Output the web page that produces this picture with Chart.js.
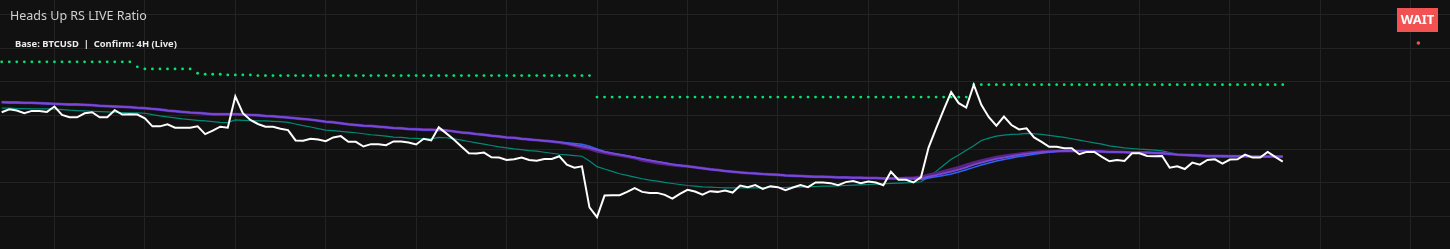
<!DOCTYPE html>
<html>
<head>
<meta charset="utf-8">
<title>Heads Up RS LIVE Ratio</title>
<script src="https://cdn.jsdelivr.net/npm/chart.js@4.4.1/dist/chart.umd.min.js"></script>
<style>
    html, body { margin: 0; padding: 0; background: #111111; overflow: hidden; }
    #wrap { position: relative; width: 1450px; height: 249px; overflow: hidden; }
    /* chart.js keeps 5px for point overflow, so the canvas box is pushed out by that much */
    #chartBox { position: absolute; left: -5px; top: -5px; width: 1460px; height: 259px; }
    #title { position: absolute; left: 10px; top: 7px; font: 12.5px "Noto Sans", sans-serif; color: #d0d0d0; }
    #sub { position: absolute; left: 15px; top: 37px; font: bold 9.4px "Noto Sans", sans-serif; color: #ececec; white-space: pre; }
</style>
</head>
<body>
<div id="wrap">
    <div id="chartBox"><canvas id="rsChart"></canvas></div>
    <div id="title">Heads Up RS LIVE Ratio</div>
    <div id="sub">Base: BTCUSD  |  Confirm: 4H (Live)</div>
</div>
<script>
// bar index (4H candles) for every series
const bars = [];
for (let i = 0; i <= 170; i++) bars.push(i);

// grid every 12 bars, ratio grid every 10 pts
const xGridTicks = [7, 19, 31, 43, 55, 67, 79, 91, 103, 115, 127, 139, 151, 163, 175, 187];

// live RS ratio (white)
const ratio = [
    41.0, 41.9, 41.5, 40.7, 41.4, 41.4, 41.1, 42.7, 40.2, 39.5,
    39.5, 40.7, 41.0, 39.5, 39.5, 41.6, 40.3, 40.4, 40.3, 39.2,
    36.8, 36.8, 37.4, 36.4, 36.4, 36.4, 36.8, 34.5, 35.5, 36.7,
    36.4, 45.7, 40.7, 38.7, 37.5, 36.7, 36.7, 36.1, 35.7, 32.6,
    32.5, 33.1, 32.9, 32.4, 33.5, 33.9, 32.2, 32.2, 30.8, 31.5,
    31.5, 31.2, 32.3, 32.3, 32.0, 31.4, 33.1, 32.6, 36.5, 34.7,
    32.9, 30.8, 28.8, 28.7, 29.0, 27.6, 27.5, 26.8, 27.0, 27.5,
    26.8, 26.6, 27.1, 27.1, 27.9, 25.4, 24.5, 24.9, 12.7, 9.8,
    16.2, 16.3, 16.3, 17.3, 18.4, 17.3, 17.0, 17.0, 16.4, 15.3,
    16.7, 17.9, 17.4, 16.5, 17.5, 17.3, 17.7, 17.1, 19.2, 18.7,
    19.3, 18.2, 19.0, 18.7, 17.8, 18.6, 19.3, 18.7, 20.1, 20.1,
    19.9, 19.3, 20.2, 20.5, 19.9, 20.4, 20.1, 19.3, 23.3, 20.9,
    20.9, 20.1, 21.7, 30.5, 36.2, 41.7, 47.0, 43.7, 42.4, 49.2,
    43.2, 39.5, 37.0, 39.7, 37.2, 35.9, 36.2, 33.5, 32.2, 30.7,
    30.7, 30.3, 30.3, 28.5, 29.2, 29.2, 27.7, 26.4, 26.8, 26.5,
    28.8, 28.8, 28.0, 27.9, 28.0, 24.5, 24.9, 24.1, 26.0, 25.4,
    26.8, 27.0, 25.7, 26.9, 27.0, 28.4, 27.5, 27.5, 29.2, 27.7,
    26.3
];

// fast average (teal)
const fastAvg = [
    42.2, 42.2, 42.1, 42.1, 42.0, 42.0, 42.0, 41.9, 41.8, 41.6,
    41.5, 41.4, 41.3, 41.2, 41.1, 41.0, 40.9, 40.8, 40.8, 40.7,
    40.3, 39.9, 39.6, 39.3, 39.0, 38.8, 38.6, 38.4, 38.2, 38.0,
    37.9, 38.7, 38.6, 38.5, 38.4, 38.4, 38.3, 38.2, 38.0, 37.5,
    37.0, 36.6, 36.1, 35.7, 35.5, 35.3, 35.1, 34.9, 34.6, 34.3,
    34.1, 33.9, 33.6, 33.5, 33.3, 33.2, 33.1, 33.1, 33.5, 33.4,
    33.1, 32.7, 32.3, 31.9, 31.5, 31.1, 30.7, 30.4, 30.1, 29.9,
    29.6, 29.4, 29.1, 28.8, 28.5, 28.3, 28.1, 27.9, 26.5, 24.8,
    24.1, 23.4, 22.7, 22.2, 21.7, 21.2, 20.8, 20.5, 20.1, 19.8,
    19.5, 19.2, 19.0, 18.8, 18.7, 18.6, 18.5, 18.5, 18.5, 18.5,
    18.5, 18.5, 18.6, 18.6, 18.6, 18.7, 18.7, 18.8, 18.9, 19.0,
    19.0, 19.1, 19.2, 19.3, 19.4, 19.5, 19.6, 19.7, 19.8, 19.9,
    20.0, 20.1, 20.3, 21.7, 23.4, 25.2, 27.0, 28.3, 29.7, 31.0,
    32.6, 33.3, 33.9, 34.2, 34.4, 34.5, 34.7, 34.6, 34.4, 34.1,
    33.8, 33.5, 33.1, 32.7, 32.3, 31.9, 31.5, 31.0, 30.7, 30.4,
    30.2, 30.0, 29.9, 29.7, 29.5, 29.0, 28.5, 28.2, 27.9, 27.8,
    27.7, 27.7, 27.6, 27.6, 27.6, 27.7, 27.7, 27.7, 27.8, 27.8,
    27.9
];

// slow average (violet)
const slowAvg = [
    44.0, 43.9, 43.9, 43.8, 43.8, 43.7, 43.6, 43.5, 43.4, 43.3,
    43.3, 43.2, 43.1, 42.9, 42.8, 42.7, 42.6, 42.5, 42.3, 42.2,
    42.0, 41.8, 41.5, 41.3, 41.1, 40.9, 40.8, 40.6, 40.4, 40.4,
    40.4, 40.4, 40.3, 40.2, 40.1, 39.9, 39.8, 39.6, 39.4, 39.2,
    39.0, 38.8, 38.5, 38.2, 38.0, 37.7, 37.4, 37.2, 37.0, 36.9,
    36.7, 36.5, 36.3, 36.2, 36.0, 35.9, 35.8, 35.8, 35.7, 35.6,
    35.3, 35.0, 34.8, 34.5, 34.3, 34.0, 33.8, 33.5, 33.4, 33.1,
    32.9, 32.7, 32.5, 32.3, 32.1, 31.7, 31.3, 30.9, 30.4, 29.8,
    29.2, 28.8, 28.4, 28.0, 27.6, 27.1, 26.7, 26.3, 25.9, 25.5,
    25.2, 24.9, 24.6, 24.3, 24.0, 23.8, 23.5, 23.3, 23.1, 22.9,
    22.8, 22.6, 22.5, 22.4, 22.2, 22.1, 22.0, 21.9, 21.8, 21.8,
    21.7, 21.6, 21.6, 21.5, 21.5, 21.4, 21.4, 21.3, 21.3, 21.3,
    21.3, 21.3, 21.3, 21.8, 22.3, 22.8, 23.3, 23.9, 24.6, 25.4,
    26.0, 26.6, 27.1, 27.5, 27.9, 28.3, 28.6, 28.9, 29.1, 29.3,
    29.4, 29.5, 29.5, 29.5, 29.4, 29.4, 29.3, 29.2, 29.2, 29.1,
    29.0, 29.0, 29.0, 28.9, 28.8, 28.6, 28.4, 28.3, 28.2, 28.1,
    28.0, 28.0, 28.0, 27.9, 27.9, 27.9, 27.8, 27.8, 27.8, 27.8,
    27.8
];

// trend average (dark purple, peeks out around the turns)
const trendAvg = [
    44.0, 43.9, 43.9, 43.8, 43.8, 43.7, 43.6, 43.5, 43.4, 43.3,
    43.3, 43.2, 43.1, 42.9, 42.8, 42.7, 42.6, 42.5, 42.3, 42.2,
    42.0, 41.8, 41.5, 41.3, 41.1, 40.9, 40.8, 40.6, 40.4, 40.4,
    40.4, 40.4, 40.3, 40.2, 40.1, 39.9, 39.8, 39.6, 39.4, 39.2,
    39.0, 38.8, 38.5, 38.2, 38.0, 37.7, 37.4, 37.2, 37.0, 36.9,
    36.7, 36.5, 36.3, 36.2, 36.0, 35.9, 35.8, 35.8, 35.7, 35.6,
    35.3, 35.0, 34.8, 34.5, 34.3, 34.0, 33.8, 33.5, 33.4, 33.1,
    32.9, 32.7, 32.5, 32.3, 32.0, 31.6, 31.1, 30.6, 30.1, 29.4,
    28.9, 28.5, 28.2, 27.8, 27.4, 26.7, 26.3, 25.9, 25.6, 25.3,
    25.1, 24.9, 24.6, 24.3, 24.0, 23.8, 23.5, 23.3, 23.1, 22.9,
    22.8, 22.6, 22.5, 22.4, 22.2, 22.1, 22.0, 21.9, 21.8, 21.8,
    21.7, 21.6, 21.6, 21.5, 21.5, 21.4, 21.4, 21.3, 21.3, 21.3,
    21.4, 21.5, 21.7, 22.3, 22.8, 23.4, 24.0, 24.6, 25.3, 26.0,
    26.6, 27.1, 27.6, 28.0, 28.3, 28.6, 28.9, 29.1, 29.3, 29.4,
    29.4, 29.5, 29.5, 29.5, 29.4, 29.4, 29.3, 29.2, 29.2, 29.1,
    29.0, 29.0, 29.0, 28.9, 28.8, 28.6, 28.4, 28.3, 28.2, 28.1,
    28.0, 28.0, 28.0, 27.9, 27.9, 27.9, 27.8, 27.8, 27.8, 27.8,
    27.8
];

// base average (blue, mostly under the violet)
const baseAvg = [
    44.0, 43.9, 43.9, 43.8, 43.8, 43.7, 43.6, 43.5, 43.4, 43.3,
    43.3, 43.2, 43.1, 42.9, 42.8, 42.7, 42.6, 42.5, 42.3, 42.2,
    42.0, 41.8, 41.5, 41.3, 41.1, 40.9, 40.8, 40.6, 40.4, 40.4,
    40.4, 40.4, 40.3, 40.2, 40.1, 39.9, 39.8, 39.6, 39.4, 39.2,
    39.0, 38.8, 38.5, 38.2, 38.0, 37.7, 37.4, 37.2, 37.0, 36.9,
    36.7, 36.5, 36.3, 36.2, 36.0, 35.9, 35.8, 35.8, 35.7, 35.6,
    35.3, 35.0, 34.8, 34.5, 34.3, 34.0, 33.8, 33.5, 33.4, 33.1,
    32.9, 32.7, 32.5, 32.3, 32.1, 31.9, 31.7, 31.5, 30.9, 30.1,
    29.3, 28.8, 28.4, 28.0, 27.6, 27.1, 26.7, 26.3, 25.9, 25.5,
    25.2, 24.9, 24.6, 24.3, 24.0, 23.8, 23.5, 23.3, 23.1, 22.9,
    22.8, 22.6, 22.5, 22.4, 22.2, 22.1, 22.0, 21.9, 21.8, 21.8,
    21.7, 21.6, 21.6, 21.5, 21.5, 21.4, 21.4, 21.3, 21.3, 21.3,
    21.2, 21.1, 21.0, 21.4, 21.8, 22.2, 22.6, 23.2, 23.9, 24.6,
    25.3, 25.9, 26.5, 26.9, 27.4, 27.8, 28.1, 28.5, 28.8, 29.1,
    29.3, 29.5, 29.5, 29.5, 29.4, 29.4, 29.3, 29.2, 29.2, 29.1,
    29.0, 29.0, 29.0, 28.9, 28.8, 28.6, 28.4, 28.3, 28.2, 28.1,
    28.0, 28.0, 28.0, 27.9, 27.9, 27.9, 27.8, 27.8, 27.8, 27.8,
    27.8
];

// confirm level (green dots)
const confirmLevel = [
    56.0, 56.0, 56.0, 56.0, 56.0, 56.0, 56.0, 56.0, 56.0, 56.0,
    56.0, 56.0, 56.0, 56.0, 56.0, 56.0, 56.0, 56.0, 54.5, 53.9,
    53.9, 53.9, 53.9, 53.9, 53.9, 53.9, 52.6, 52.3, 52.3, 52.3,
    52.1, 52.1, 52.1, 52.1, 51.9, 51.9, 51.9, 51.9, 51.9, 51.9,
    51.9, 51.9, 51.9, 51.9, 51.9, 51.9, 51.9, 51.9, 51.9, 51.9,
    51.9, 51.9, 51.9, 51.9, 51.9, 51.9, 51.9, 51.9, 51.9, 51.9,
    51.9, 51.9, 51.9, 51.9, 51.9, 51.9, 51.9, 51.9, 51.9, 51.9,
    51.9, 51.9, 51.9, 51.9, 51.9, 51.9, 51.9, 51.9, 51.9, 45.5,
    45.5, 45.5, 45.5, 45.5, 45.5, 45.5, 45.5, 45.5, 45.5, 45.5,
    45.5, 45.5, 45.5, 45.5, 45.5, 45.5, 45.5, 45.5, 45.5, 45.5,
    45.5, 45.5, 45.5, 45.5, 45.5, 45.5, 45.5, 45.5, 45.5, 45.5,
    45.5, 45.5, 45.5, 45.5, 45.5, 45.5, 45.5, 45.5, 45.5, 45.5,
    45.5, 45.5, 45.5, 45.5, 45.5, 45.5, 45.5, 45.5, 45.5, 49.2,
    49.2, 49.2, 49.2, 49.2, 49.2, 49.2, 49.2, 49.2, 49.2, 49.2,
    49.2, 49.2, 49.2, 49.2, 49.2, 49.2, 49.2, 49.2, 49.2, 49.2,
    49.2, 49.2, 49.2, 49.2, 49.2, 49.2, 49.2, 49.2, 49.2, 49.2,
    49.2, 49.2, 49.2, 49.2, 49.2, 49.2, 49.2, 49.2, 49.2, 49.2,
    49.2
];

// signal marker
const signalX = [188];
const signalY = [61.6];
const signalText = ['WAIT'];

function toPoints(values) {
    return values.map((v, i) => ({ x: bars[i], y: v }));
}

// draws the signal tag above the marker
const signalTag = {
    id: 'signalTag',
    afterDatasetsDraw(chart) {
        const idx = chart.data.datasets.findIndex(d => d.label === 'Signal');
        const pt = chart.getDatasetMeta(idx).data[0];
        if (!pt) return;
        const ctx = chart.ctx;
        const px = Math.round(pt.x);
        const py = Math.round(pt.y);
        ctx.save();
        ctx.fillStyle = '#f25252';
        ctx.fillRect(px - 21, py - 35, 41, 24);
        ctx.fillStyle = '#ffffff';
        ctx.font = 'bold 13px "Noto Sans", sans-serif';
        ctx.textAlign = 'center';
        ctx.textBaseline = 'middle';
        ctx.fillText(signalText[0], px - 0.5, py - 22.5);
        ctx.restore();
    }
};

document.addEventListener('DOMContentLoaded', function() {
    const ctx = document.getElementById('rsChart');
    new Chart(ctx, {
        type: 'line',
        data: {
            datasets: [
                {
                    label: 'RS Ratio',
                    data: toPoints(ratio),
                    borderColor: '#ffffff',
                    borderWidth: 2,
                    pointRadius: 0,
                    order: 0
                },
                {
                    label: 'Confirm',
                    data: toPoints(confirmLevel),
                    showLine: false,
                    pointRadius: 1.4,
                    pointBorderWidth: 0,
                    pointBackgroundColor: '#00e676',
                    order: 1
                },
                {
                    label: 'Slow',
                    data: toPoints(slowAvg),
                    borderColor: '#7a48d8',
                    borderWidth: 1.8,
                    pointRadius: 0,
                    order: 2
                },
                {
                    label: 'Base',
                    data: toPoints(baseAvg),
                    borderColor: '#2d64f2',
                    borderWidth: 1.5,
                    pointRadius: 0,
                    order: 3
                },
                {
                    label: 'Trend',
                    data: toPoints(trendAvg),
                    borderColor: '#5b2384',
                    borderWidth: 3,
                    pointRadius: 0,
                    order: 4
                },
                {
                    label: 'Fast',
                    data: toPoints(fastAvg),
                    borderColor: '#00897b',
                    borderWidth: 1.2,
                    pointRadius: 0,
                    order: 5
                },
                {
                    label: 'Signal',
                    data: signalX.map((x, i) => ({ x: x, y: signalY[i] })),
                    showLine: false,
                    pointRadius: 1.8,
                    pointBorderWidth: 0,
                    pointBackgroundColor: '#f25252',
                    order: 6
                }
            ]
        },
        options: {
            responsive: true,
            maintainAspectRatio: false,
            devicePixelRatio: 1,
            animation: false,
            events: [],
            layout: { padding: 0 },
            elements: { line: { tension: 0 } },
            plugins: {
                legend: { display: false },
                tooltip: { enabled: false },
                title: { display: false }
            },
            scales: {
                x: {
                    type: 'linear',
                    min: -0.359,
                    max: 192.33,
                    afterBuildTicks: function(scale) {
                        scale.ticks = xGridTicks.map(v => ({ value: v }));
                    },
                    ticks: { display: false },
                    border: { display: false },
                    grid: { color: '#232323', drawTicks: false }
                },
                y: {
                    min: 0,
                    max: 74.7,
                    ticks: { display: false, stepSize: 10 },
                    border: { display: false },
                    grid: { color: '#232323', drawTicks: false }
                }
            }
        },
        plugins: [signalTag]
    });
});
</script>
</body>
</html>
